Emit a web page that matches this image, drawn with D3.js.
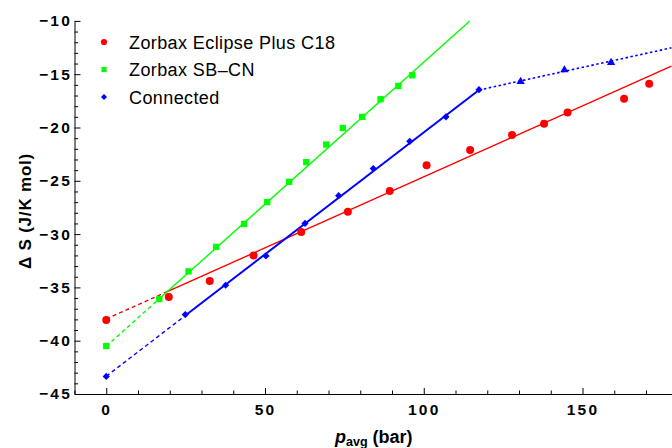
<!DOCTYPE html>
<html>
<head>
<meta charset="utf-8">
<script src="https://cdn.jsdelivr.net/npm/d3@7"></script>
<style>
  body { margin: 0; background: #fff; }
  svg { font-family: "Liberation Sans", Arial, sans-serif; }
  .tick text { font-weight: bold; font-size: 15.5px; letter-spacing: 2.2px; fill: #000; }
</style>
</head>
<body>
<div id="chart"></div>
<script>
// frame
const FRAME_WIDTH = 672;
const FRAME_HEIGHT = 448;

// data
const c18_p  = [0, 19.7, 32.6, 46.4, 61.4, 76.1, 89.3, 100.9, 114.6, 127.8, 137.9, 145.3, 163.1, 171.0];
const c18_dS = [-38.05, -35.9, -34.4, -32.0, -29.8, -27.9, -25.95, -23.55, -22.1, -20.7, -19.65, -18.6, -17.3, -15.9];

const cn_p  = [0, 16.7, 25.9, 34.6, 43.4, 50.7, 57.6, 63.0, 69.3, 74.5, 80.6, 86.4, 92.0, 96.4];
const cn_dS = [-40.5, -36.1, -33.5, -31.2, -29.05, -27.0, -25.1, -23.25, -21.6, -20.05, -19.0, -17.35, -16.1, -15.1];

const conn_p  = [0, 24.9, 37.6, 50.3, 62.6, 73.2, 84.1, 95.6, 107.0, 117.4];
const conn_dS = [-43.35, -37.55, -34.8, -32.05, -29.0, -26.4, -23.85, -21.3, -19.0, -16.45];

const connHigh_p  = [130.5, 144.3, 159.0];
const connHigh_dS = [-15.7, -14.6, -13.9];

// linear fits: [intercept, slope]
const c18_fit  = [-37.96, 0.1333];
const cn_fit   = [-40.52, 0.2665];
const conn_fit = [-43.34, 0.2288];
const connHigh_fit = [-24.15, 0.0653];

const x_ticks = [0, 50, 100, 150];
const y_ticks = [-45, -40, -35, -30, -25, -20, -15, -10];

const legend_labels = ["Zorbax Eclipse Plus C18", "Zorbax SB\u2013CN", "Connected"];

const svg = d3.select("#chart")
  .append("svg")
    .attr("width", FRAME_WIDTH)
    .attr("height", FRAME_HEIGHT);

const x_scale = d3.scaleLinear().domain([-10, 178]).range([74.5, 671.4]);
const y_scale = d3.scaleLinear().domain([-45, -10]).range([394, 20.9]);

// axes (ticks point inwards like the original)
svg.append("g")
  .attr("transform", "translate(0," + y_scale(-45) + ")")
  .call(d3.axisBottom(x_scale).tickValues(x_ticks).tickSize(-6).tickPadding(10).tickSizeOuter(0));
svg.append("g")
  .attr("transform", "translate(0," + y_scale(-45) + ")")
  .call(d3.axisBottom(x_scale).tickValues(d3.range(-10, 179, 10).filter(v => v % 50 !== 0))
        .tickSize(-3.5).tickFormat("").tickSizeOuter(0))
  .select(".domain").remove();

svg.append("g")
  .attr("transform", "translate(" + x_scale(-10) + ",0)")
  .call(d3.axisLeft(y_scale).tickValues(y_ticks).tickSize(-6).tickPadding(2.5).tickSizeOuter(0));
svg.append("g")
  .attr("transform", "translate(" + x_scale(-10) + ",0)")
  .call(d3.axisLeft(y_scale).tickValues(d3.range(-45, -9, 1).filter(v => v % 5 !== 0))
        .tickSize(-3.5).tickFormat("").tickSizeOuter(0))
  .select(".domain").remove();

svg.selectAll(".domain").attr("stroke", "#000").attr("stroke-width", 1);
svg.selectAll(".tick line").attr("stroke", "#000");

// fit lines
const plot = svg.append("g");
function fitLine(fit, x0, x1, color, width, dash) {
  let ya = fit[0] + fit[1] * x0, yb = fit[0] + fit[1] * x1;
  let xe = x1;
  if (yb > -10) { xe = (-10 - fit[0]) / fit[1]; yb = -10; }
  plot.append("line")
    .attr("x1", x_scale(x0)).attr("y1", y_scale(ya))
    .attr("x2", x_scale(xe)).attr("y2", y_scale(yb))
    .attr("stroke", color)
    .attr("stroke-width", width)
    .attr("stroke-dasharray", dash);
}
fitLine(c18_fit, 0, 18.5, "#ff0000", 1.4, "4,3");
fitLine(c18_fit, 18.5, 178, "#ff0000", 1.4, null);
fitLine(cn_fit, 0, 17.5, "#00ff00", 1.4, "4,3");
fitLine(cn_fit, 17.5, 178, "#00ff00", 1.4, null);
fitLine(conn_fit, 0, 24.9, "#0000ff", 1.4, "4,3");
fitLine(conn_fit, 24.9, 117.4, "#0000ff", 2, null);
fitLine(connHigh_fit, 117.4, 178, "#0000ff", 1.6, "2.5,2.5");

// points
function drawPoints(xs, ys, type, size, color, rot) {
  plot.selectAll(null)
    .data(xs.map((v, i) => [v, ys[i]]))
    .enter()
    .append("path")
      .attr("d", d3.symbol().type(type).size(size))
      .attr("transform", d => "translate(" + x_scale(d[0]) + "," + y_scale(d[1]) + ") rotate(" + (rot || 0) + ")")
      .attr("fill", color);
}
drawPoints(c18_p, c18_dS, d3.symbolCircle, 50, "#ff0000");
drawPoints(cn_p, cn_dS, d3.symbolSquare, 40, "#00ff00");
drawPoints(conn_p, conn_dS, d3.symbolSquare, 26, "#0000ff", 45);
drawPoints(connHigh_p, connHigh_dS, d3.symbolTriangle, 30, "#0000ff");

// legend
const legend_symbols = [[d3.symbolCircle, 30, "#ff0000", 0], [d3.symbolSquare, 26, "#00ff00", 0], [d3.symbolSquare, 18, "#0000ff", 45]];
const legend = svg.append("g");
legend_labels.forEach((lab, i) => {
  const yy = 42 + i * 27.5;
  legend.append("path")
    .attr("d", d3.symbol().type(legend_symbols[i][0]).size(legend_symbols[i][1]))
    .attr("transform", "translate(104," + yy + ") rotate(" + legend_symbols[i][3] + ")")
    .attr("fill", legend_symbols[i][2]);
  legend.append("text")
    .attr("x", 129).attr("y", yy + 6.5)
    .attr("font-size", "18px")
    .attr("letter-spacing", "0.4px")
    .text(lab);
});

// axis titles
svg.append("text")
  .attr("transform", "translate(31,211) rotate(-90)")
  .attr("text-anchor", "middle")
  .attr("font-size", "17px")
  .attr("font-weight", "bold")
  .attr("letter-spacing", "0.8px")
  .text("\u0394 S (J/K mol)");

const xl = svg.append("text")
  .attr("x", 335).attr("y", 443)
  .attr("font-size", "18px")
  .attr("font-weight", "bold");
xl.append("tspan").attr("font-style", "italic").text("p");
xl.append("tspan").attr("font-size", "12.5px").attr("dy", 3).text("avg");
xl.append("tspan").attr("dy", -3).text(" (bar)");
</script>
</body>
</html>
